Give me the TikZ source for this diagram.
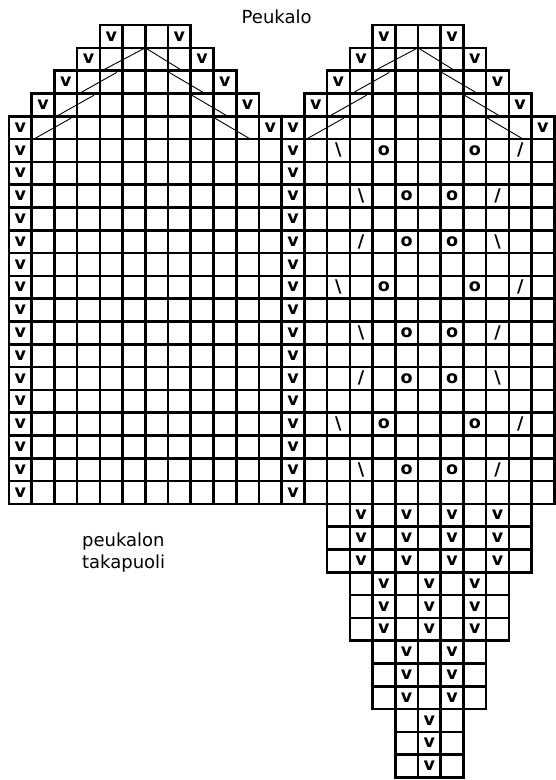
\documentclass[tikz,border=0pt]{standalone}
\usepackage{fontspec}
\setmainfont{DejaVu Sans}
\begin{document}
\begin{tikzpicture}[x=22.72pt,y=-22.8pt]
\tikzset{
  cellbox/.style={line width=2.6pt},
  sym/.style={inner sep=0pt, anchor=center, font=\fontsize{17.5}{20}\selectfont\bfseries},
  diag/.style={line width=0.9pt},
  lbl/.style={inner sep=0pt, anchor=base west, font=\fontsize{18}{21}\selectfont}
}
\useasboundingbox (-0.3961,-1.0965) rectangle (24.032,33.114);
\fill[white] (-0.3961,-1.0965) rectangle (24.032,33.114);
% top staircases
\foreach \r/\a/\b in {0/4/7, 1/3/8, 2/2/9, 3/1/10, 0/16/19, 1/15/20, 2/14/21, 3/13/22}{
  \foreach \c in {\a,...,\b}{\draw[cellbox] (\c,\r) rectangle ++(1,1);}
}
% main body
\foreach \r in {4,...,20}{
  \foreach \c in {0,...,23}{\draw[cellbox] (\c,\r) rectangle ++(1,1);}
}
% lower taper
\foreach \r/\a/\b in {21/14/22, 22/14/22, 23/14/22, 24/15/21, 25/15/21, 26/15/21, 27/16/20, 28/16/20, 29/16/20, 30/17/19, 31/17/19, 32/17/19}{
  \foreach \c in {\a,...,\b}{\draw[cellbox] (\c,\r) rectangle ++(1,1);}
}
% v symbols top staircases
\foreach \r/\c in {0/4,0/7,1/3,1/8,2/2,2/9,3/1,3/10,4/0,4/11,
                   0/16,0/19,1/15,1/20,2/14,2/21,3/13,3/22,4/12,4/23}{
  \node[sym] (v-\r-\c) at (\c+0.5,\r+0.5) {v};
}
\foreach \r in {5,...,20}{
  \node[sym] (vl-\r) at (0.5,\r+0.5) {v};
  \node[sym] (vr-\r) at (12.5,\r+0.5) {v};
}
% lower taper v
\foreach \r in {21,22,23}{\foreach \c in {15,17,19,21}{\node[sym] (t-\r-\c) at (\c+0.5,\r+0.5) {v};}}
\foreach \r in {24,25,26}{\foreach \c in {16,18,20}{\node[sym] (t-\r-\c) at (\c+0.5,\r+0.5) {v};}}
\foreach \r in {27,28,29}{\foreach \c in {17,19}{\node[sym] (t-\r-\c) at (\c+0.5,\r+0.5) {v};}}
\foreach \r in {30,31,32}{\node[sym] (t-\r-18) at (18.5,\r+0.5) {v};}
% lace pattern
\foreach \r in {5,11,17}{
  \node[sym] (p-\r-a) at (14.5,\r+0.5) {\textbackslash};
  \node[sym] (p-\r-b) at (16.5,\r+0.5) {o};
  \node[sym] (p-\r-c) at (20.5,\r+0.5) {o};
  \node[sym] (p-\r-d) at (22.5,\r+0.5) {/};
}
\foreach \r in {7,13,19}{
  \node[sym] (p-\r-a) at (15.5,\r+0.5) {\textbackslash};
  \node[sym] (p-\r-b) at (17.5,\r+0.5) {o};
  \node[sym] (p-\r-c) at (19.5,\r+0.5) {o};
  \node[sym] (p-\r-d) at (21.5,\r+0.5) {/};
}
\foreach \r in {9,15}{
  \node[sym] (p-\r-a) at (15.5,\r+0.5) {/};
  \node[sym] (p-\r-b) at (17.5,\r+0.5) {o};
  \node[sym] (p-\r-c) at (19.5,\r+0.5) {o};
  \node[sym] (p-\r-d) at (21.5,\r+0.5) {\textbackslash};
}
% diagonal decrease lines
\foreach \a in {6,18}{
  \draw[diag] (\a,1) -- (\a-1.9,2);
  \foreach \i in {2,3,4}{
    \draw[diag] (\a+0.74-\i,\i+0.08) -- (\a-0.9-\i,\i+1);
  }
  \draw[diag] (\a,1) -- (\a+1.62,2);
  \foreach \i in {2,3,4}{
    \draw[diag] (\a+\i-0.95,\i+0.08) -- (\a+\i+0.62,\i+1);
  }
}
% labels
\node[inner sep=0pt, anchor=base, font=\fontsize{18}{21}\selectfont] (title) at (11.78,-0.075) {Peukalo};
\node[lbl] (lab1) at (3.21,22.88) {peukalon};
\node[lbl] (lab2) at (3.21,23.83) {takapuoli};
\end{tikzpicture}
\end{document}
